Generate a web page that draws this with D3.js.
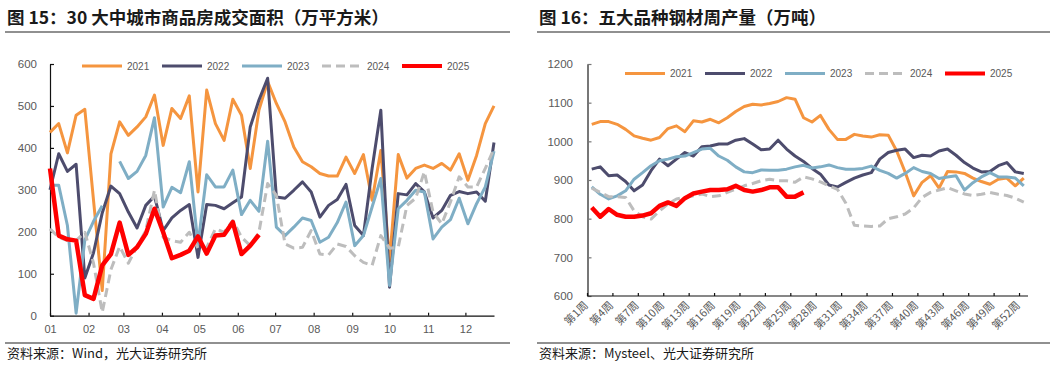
<!DOCTYPE html>
<html>
<head>
<meta charset="utf-8">
<script src="https://cdn.jsdelivr.net/npm/d3@7/dist/d3.min.js"></script>
<style>
  body { margin: 0; background: #fff; }
  svg text { font-family: 'Liberation Sans', Arial, 'Noto Sans CJK SC', sans-serif; fill: #595959; }
  .cjk { font-family: 'Noto Sans CJK SC', sans-serif !important; }
</style>
</head>
<body>
<svg id="chart" width="1055" height="365"></svg>
<script>
const seriesNames = ['2021', '2022', '2023', '2024', '2025'];
const seriesColors = ['#F5953F', '#4D4C6D', '#7FAEC5', '#BDBDBD', '#FF0000'];

// 图15 30大中城市商品房成交面积（万平方米），按周
const monthLabels = ['01', '02', '03', '04', '05', '06', '07', '08', '09', '10', '11', '12'];
const area2021 = [437, 458, 388, 478, 492, 275, 60, 386, 462, 430, 450, 474, 526, 406, 494, 470, 524, 295, 538, 458, 418, 516, 478, 351, 490, 558, 506, 462, 402, 367, 355, 339, 333, 333, 378, 339, 384, 275, 394, 130, 384, 328, 351, 359, 351, 363, 347, 386, 323, 382, 458, 500];
const area2022 = [300, 386, 344, 361, 90, 150, 245, 309, 291, 247, 209, 263, 285, 203, 233, 251, 265, 139, 265, 263, 255, 269, 283, 450, 514, 566, 283, 280, 299, 319, 295, 235, 263, 277, 313, 215, 191, 351, 490, 68, 291, 288, 315, 295, 233, 251, 287, 296, 291, 295, 273, 413];
const area2023 = [311, 311, 215, 6, 180, 225, 262, null, 368, 327, 344, 382, 472, 259, 306, 293, 367, 170, 336, 307, 307, 347, 241, 275, 249, 416, 211, 191, 211, 233, 227, 175, 187, 222, 271, 167, 191, 259, 327, 72, 255, 275, 299, 295, 183, 211, 229, 280, 219, 267, 307, 392];
const area2024 = [207, 187, 179, 179, 199, 125, 8, 110, 165, 125, 165, 203, 299, 187, 179, 175, 199, 161, 163, 207, 199, 227, 187, 167, 199, 315, 287, 171, 161, 163, 203, 147, 145, 171, 165, 143, 127, 120, 191, 161, 163, 263, 280, 343, 247, 219, 271, 331, 307, 307, 351, 398];
const area2025 = [351, 191, 182, 179, 49, 40, 120, 147, 222, 145, 163, 195, 255, 199, 137, 145, 155, 189, 148, 191, 193, 223, 147, 167, 193];
const areaTicks = [0, 100, 200, 300, 400, 500, 600];

// 图16 五大品种钢材周产量（万吨）
const steelTickLabels = ['第1周', '第4周', '第7周', '第10周', '第13周', '第16周', '第19周', '第22周', '第25周', '第28周', '第31周', '第34周', '第37周', '第40周', '第43周', '第46周', '第49周', '第52周'];
const steel2021 = [1044, 1051, 1051, 1044, 1031, 1014, 1008, 1003, 1010, 1033, 1040, 1025, 1053, 1050, 1057, 1048, 1061, 1077, 1090, 1096, 1094, 1098, 1103, 1113, 1109, 1061, 1050, 1067, 1031, 1005, 1005, 1018, 1014, 1011, 1017, 1016, 975, 920, 859, 894, 911, 879, 922, 921, 917, 905, 896, 889, 902, 905, 885, 905];
const steel2022 = [928, 934, 911, 913, 896, 872, 887, 924, 954, 937, 954, 971, 962, 986, 988, 993, 993, 1003, 1007, 993, 978, 980, 1003, 980, 962, 948, 930, 915, 887, 882, 894, 905, 913, 919, 954, 971, 977, 980, 958, 964, 962, 975, 980, 964, 945, 931, 921, 922, 937, 945, 921, 917];
const steel2023 = [882, 863, 851, 859, 872, 902, 919, 937, 950, 954, 960, 962, 971, 980, 982, 962, 951, 934, 921, 919, 926, 925, 925, 928, 934, 938, 931, 934, 939, 932, 928, 928, 930, 936, 925, 917, 905, 917, 932, 922, 917, 904, 908, 911, 874, 893, 908, 919, 908, 908, 905, 885];
const steel2024 = [879, 868, 857, 857, 855, 820, 805, 799, 820, 838, 851, 855, 859, 864, 857, 859, 868, 876, 885, 891, 898, 902, 898, 898, 894, 908, 903, 895, 885, 876, 840, 783, 781, 780, 781, 800, 805, 812, 828, 855, 868, 874, 880, 872, 864, 860, 863, 868, 863, 860, 853, 843];
const steel2025 = [829, 805, 825, 810, 805, 805, 808, 814, 833, 842, 833, 853, 865, 870, 874, 874, 876, 885, 874, 870, 874, 881, 881, 857, 857, 868];
const steelTicks = [600, 700, 800, 900, 1000, 1100, 1200];

const svg = d3.select('#chart');

main();

function main() {
  drawFrame(5, 510, '图 15：30 大中城市商品房成交面积（万平方米）', '资料来源：Wind，光大证券研究所');
  drawFrame(537, 1050, '图 16：五大品种钢材周产量（万吨）', '资料来源：Mysteel、光大证券研究所');
  drawArea();
  drawSteel();
}

function drawFrame(x0, x1, title, source) {
  svg.append('text')
    .attr('class', 'cjk')
    .attr('x', x0 + 2)
    .attr('y', 24)
    .style('font-size', '17.5px')
    .style('font-weight', 'bold')
    .style('fill', '#1a1a1a')
    .text(title);
  svg.append('line')
    .attr('x1', x0).attr('x2', x1)
    .attr('y1', 32).attr('y2', 32)
    .attr('stroke', '#222').attr('stroke-width', 1.2);
  svg.append('line')
    .attr('x1', x0).attr('x2', x1)
    .attr('y1', 343).attr('y2', 343)
    .attr('stroke', '#222').attr('stroke-width', 1.2);
  svg.append('text')
    .attr('class', 'cjk')
    .attr('x', x0 + 2)
    .attr('y', 358)
    .style('font-size', '13px')
    .style('fill', '#1a1a1a')
    .text(source);
}

function drawLegend(g, x0, y0) {
  seriesNames.forEach((name, i) => {
    const lx = x0 + i * 80;
    g.append('line')
      .attr('x1', lx).attr('x2', lx + 40)
      .attr('y1', y0).attr('y2', y0)
      .attr('stroke', seriesColors[i])
      .attr('stroke-width', i === 4 ? 4 : 3)
      .attr('stroke-dasharray', i === 3 ? '9,5' : null);
    g.append('text')
      .attr('x', lx + 45)
      .attr('y', y0 + 3.5)
      .style('font-size', '10px')
      .text(name);
  });
}

function drawSeries(g, series, line) {
  series.forEach((values, i) => {
    g.append('path')
      .datum(values)
      .attr('fill', 'none')
      .attr('stroke', seriesColors[i])
      .attr('stroke-width', i === 4 ? 4.5 : 3)
      .attr('stroke-linejoin', 'round')
      .attr('stroke-dasharray', i === 3 ? '9,5' : null)
      .attr('d', line);
  });
}

function drawArea() {
  const g = svg.append('g');
  const start = new Date(2021, 0, 1);
  const x = d3.scaleTime()
    .domain([start, new Date(2021, 0, 1 + 357)])
    .range([50, 494]);
  const y = d3.scaleLinear().domain([0, 600]).range([315.7, 64]);
  const weekDate = (i) => new Date(2021, 0, 1 + 7 * i);

  const yAxis = g.append('g')
    .attr('transform', 'translate(50,0)')
    .call(d3.axisLeft(y).tickValues(areaTicks).tickSize(-4).tickSizeOuter(0).tickPadding(13)
      .tickFormat(d3.format('d')));
  yAxis.selectAll('text').style('font-size', '11.5px').style('fill', '#595959');

  const monthTicks = monthLabels.map((m, i) => new Date(2021, i, 1));
  const xAxis = g.append('g')
    .attr('transform', 'translate(0,315.7)')
    .call(d3.axisBottom(x).tickValues(monthTicks).tickSize(-3).tickSizeOuter(0).tickPadding(10)
      .tickFormat((d, i) => monthLabels[i]));
  xAxis.selectAll('text').style('font-size', '11px').style('fill', '#595959');

  g.selectAll('.domain, .tick line').attr('stroke', '#111').attr('stroke-width', 1.2);

  const line = d3.line()
    .defined((d) => d != null)
    .x((d, i) => x(weekDate(i)))
    .y((d) => y(d));
  drawSeries(g, [area2021, area2022, area2023, area2024, area2025], line);
  drawLegend(g, 82, 66);
}

function drawSteel() {
  const g = svg.append('g');
  const cats = d3.range(52);
  const x = d3.scaleBand().domain(cats).range([587.5, 1028]).paddingInner(0).paddingOuter(0);
  const y = d3.scaleLinear().domain([600, 1200]).range([296, 64]);
  const cx = (i) => x(i) + x.bandwidth() / 2;

  const yAxis = g.append('g')
    .attr('transform', 'translate(587.5,0)')
    .call(d3.axisLeft(y).tickValues(steelTicks).tickSize(-4).tickSizeOuter(0).tickPadding(14.5)
      .tickFormat(d3.format('d')));
  yAxis.selectAll('text').style('font-size', '11.5px').style('fill', '#595959');
  yAxis.selectAll('.domain').attr('stroke', '#777').attr('stroke-width', 2);
  yAxis.selectAll('.tick line').attr('stroke', '#777').attr('stroke-width', 1.2);

  const xAxis = g.append('g').attr('transform', 'translate(0,296)');
  xAxis.append('line')
    .attr('x1', 587.5).attr('x2', 1028)
    .attr('stroke', '#111').attr('stroke-width', 1.2);
  steelTickLabels.forEach((label, k) => {
    const i = k * 3;
    xAxis.append('line')
      .attr('x1', x(i)).attr('x2', x(i))
      .attr('y1', 0).attr('y2', -3)
      .attr('stroke', '#111').attr('stroke-width', 1.2);
    xAxis.append('text')
      .attr('class', 'cjk')
      .attr('transform', `translate(${cx(i) - 3},${10}) rotate(-45)`)
      .attr('text-anchor', 'end')
      .style('font-size', '11px')
      .style('fill', '#595959')
      .text(label);
  });

  const line = d3.line()
    .x((d, i) => cx(i))
    .y((d) => y(d));
  drawSeries(g, [steel2021, steel2022, steel2023, steel2024, steel2025], line);
  drawLegend(g, 625, 73.5);
}
</script>
</body>
</html>
